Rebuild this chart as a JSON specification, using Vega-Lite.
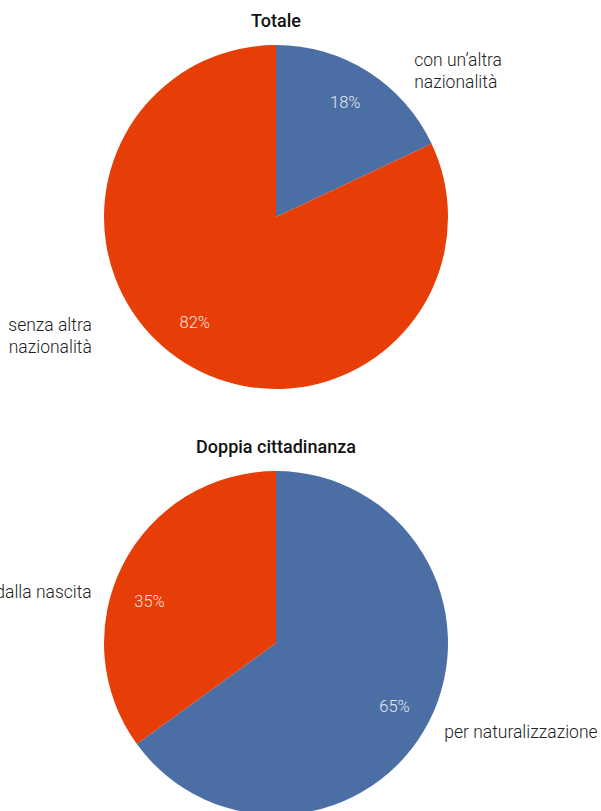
{
  "$schema": "https://vega.github.io/schema/vega-lite/v6.json",
  "padding": {"left": -5, "top": 13, "right": 0, "bottom": 0},
  "spacing": 50,
  "config": {"view": {"stroke": null}, "font": "Roboto", "title": {"font": "Roboto", "fontSize": 18, "fontWeight": 500, "color": "#111111", "offset": 14}},
  "vconcat": [
    {
      "title": "Totale",
      "width": 536,
      "height": 344,
      "data": {"values": [
        {"categoria": "con un’altra\nnazionalità", "quota": 18, "ordine": 1, "etichetta": "18%"},
        {"categoria": "senza altra\nnazionalità", "quota": 82, "ordine": 2, "etichetta": "82%"}
      ]},
      "encoding": {
        "theta": {"field": "quota", "type": "quantitative", "stack": true},
        "order": {"field": "ordine", "type": "quantitative"},
        "color": {"field": "categoria", "type": "nominal", "legend": null,
          "scale": {"domain": ["con un’altra\nnazionalità", "senza altra\nnazionalità"], "range": ["#4b6fa5", "#e73e07"]}}
      },
      "layer": [
        {"mark": {"type": "arc", "outerRadius": 172}},
        {"mark": {"type": "text", "radius": 133, "dx": -2, "dy": -2, "fontSize": 16.5, "fontWeight": 300, "opacity": 0.85},
          "encoding": {"text": {"condition": {"test": "datum.ordine == 1", "field": "etichetta"}, "value": ""}, "color": {"value": "#ffffff"}}},
        {"mark": {"type": "text", "radius": 133, "dx": -10, "dy": -6, "fontSize": 16.5, "fontWeight": 300, "opacity": 0.85},
          "encoding": {"text": {"condition": {"test": "datum.ordine == 2", "field": "etichetta"}, "value": ""}, "color": {"value": "#ffffff"}}},
        {"mark": {"type": "text", "radius": 172, "dx": 46, "dy": -11, "align": "left", "baseline": "middle", "lineBreak": "\n", "lineHeight": 22, "fontSize": 17.5, "fontWeight": 300},
          "encoding": {"text": {"condition": {"test": "datum.ordine == 1", "field": "categoria"}, "value": ""}, "color": {"value": "#222222"}}},
        {"mark": {"type": "text", "radius": 129, "dx": -115, "dy": 0, "align": "right", "baseline": "middle", "lineBreak": "\n", "lineHeight": 22, "fontSize": 17.5, "fontWeight": 300},
          "encoding": {"text": {"condition": {"test": "datum.ordine == 2", "field": "categoria"}, "value": ""}, "color": {"value": "#222222"}}}
      ]
    },
    {
      "title": "Doppia cittadinanza",
      "width": 536,
      "height": 344,
      "data": {"values": [
        {"categoria": "per naturalizzazione", "quota": 65, "ordine": 1, "etichetta": "65%"},
        {"categoria": "dalla nascita", "quota": 35, "ordine": 2, "etichetta": "35%"}
      ]},
      "encoding": {
        "theta": {"field": "quota", "type": "quantitative", "stack": true},
        "order": {"field": "ordine", "type": "quantitative"},
        "color": {"field": "categoria", "type": "nominal", "legend": null,
          "scale": {"domain": ["per naturalizzazione", "dalla nascita"], "range": ["#4b6fa5", "#e73e07"]}}
      },
      "layer": [
        {"mark": {"type": "arc", "outerRadius": 172}},
        {"mark": {"type": "text", "radius": 133, "dx": 0, "dy": 4, "fontSize": 16.5, "fontWeight": 300, "opacity": 0.85},
          "encoding": {"text": {"condition": {"test": "datum.ordine == 1", "field": "etichetta"}, "value": ""}, "color": {"value": "#ffffff"}}},
        {"mark": {"type": "text", "radius": 133, "dx": -8, "dy": 19, "fontSize": 16.5, "fontWeight": 300, "opacity": 0.85},
          "encoding": {"text": {"condition": {"test": "datum.ordine == 2", "field": "etichetta"}, "value": ""}, "color": {"value": "#ffffff"}}},
        {"mark": {"type": "text", "radius": 172, "dx": 15, "dy": 12, "align": "left", "baseline": "middle", "fontSize": 17.5, "fontWeight": 300},
          "encoding": {"text": {"condition": {"test": "datum.ordine == 1", "field": "categoria"}, "value": ""}, "color": {"value": "#222222"}}},
        {"mark": {"type": "text", "radius": 172, "dx": -31, "dy": 28, "align": "right", "baseline": "middle", "fontSize": 17.5, "fontWeight": 300},
          "encoding": {"text": {"condition": {"test": "datum.ordine == 2", "field": "categoria"}, "value": ""}, "color": {"value": "#222222"}}}
      ]
    }
  ]
}
